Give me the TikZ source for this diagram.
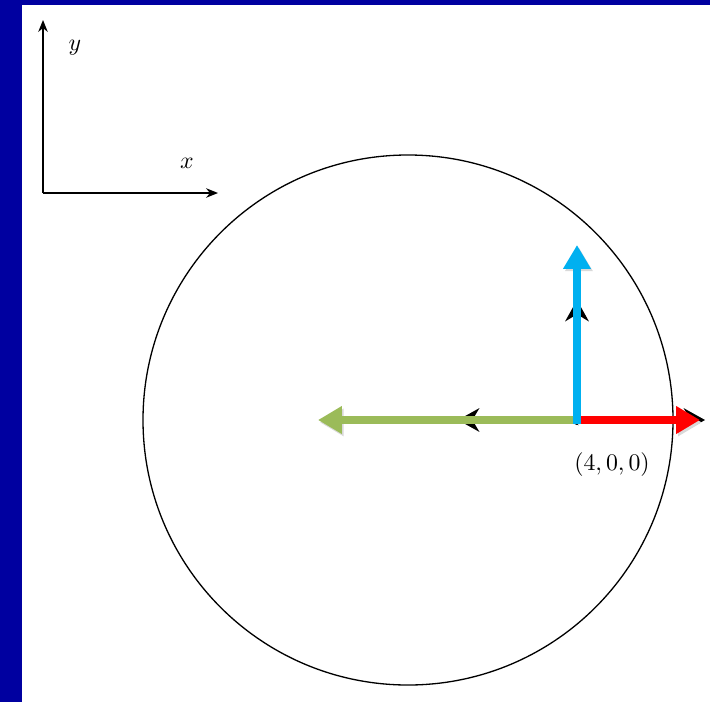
\documentclass[tikz,border=0pt]{standalone}
\usepackage{xcolor}
\usepackage{tikz}
\usetikzlibrary{arrows.meta, positioning}
\definecolor{slideblue}{RGB}{0,0,160}
\definecolor{vecred}{RGB}{255,0,0}
\definecolor{vecblue}{RGB}{0,176,240}
\definecolor{vecgreen}{RGB}{155,187,89}
\tikzstyle{axis} = [line width=0.6pt, -{Stealth[length=5pt,width=4pt]}]
\tikzstyle{under} = [line width=0.6pt, -{Stealth[length=9pt,width=10pt,inset=3pt]}]
\tikzstyle{vec} = [line width=3pt, -{Triangle[length=10pt,width=11pt]}, preaction={draw=black!15, transform canvas={xshift=0.8pt,yshift=-1pt}}]

\begin{document}
\begin{tikzpicture}[x=0.42pt, y=0.42pt]
    \fill[slideblue] (0,0) rectangle (22,702);
    \fill[slideblue] (0,697) rectangle (710,702);
    \useasboundingbox (0,0) rectangle (710,702);

    % axes
    \coordinate (O) at (43,509);
    \coordinate (ytip) at (43,682);
    \coordinate (xtip) at (218,509);
    \node (ylab) at (75,654) {$y$};
    \node (xlab) at (187,539) {$x$};
    \draw [axis] (O) -- (ytip);
    \draw [axis] (O) -- (xtip);

    % circle and point
    \coordinate (C) at (408,282);
    \draw [line width=0.55pt] (C) circle (265);
    \coordinate (P) at (577,282);
    \node (plab) at (612,237) {$(4,0,0)$};
    \fill (P) circle (5);

    % black vectors
    \coordinate (rb) at (705,282);
    \coordinate (ub) at (577,402);
    \coordinate (lb) at (458,282);
    \draw [under] (P) -- (rb);
    \draw [under] (P) -- (ub);
    \draw [under] (P) -- (lb);

    % coloured vectors
    \coordinate (rtip) at (700,282);
    \coordinate (utip) at (577,457);
    \coordinate (ltip) at (318,282);
    \coordinate (ubot) at (577,278);
    \draw [vec, vecgreen] (P) -- (ltip);
    \draw [vec, vecred] (P) -- (rtip);
    \draw [vec, vecblue] (ubot) -- (utip);
\end{tikzpicture}
\end{document}
